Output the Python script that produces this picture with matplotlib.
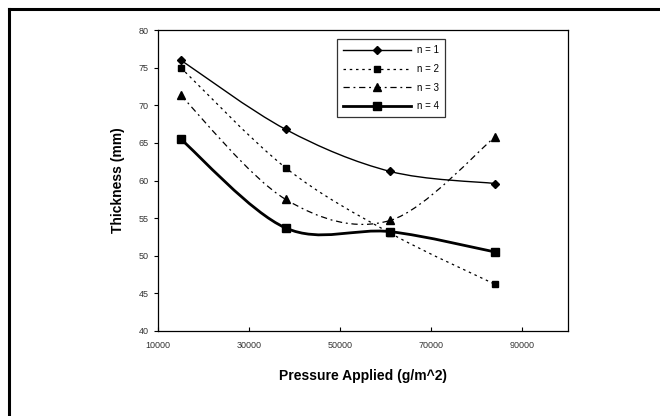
import matplotlib
matplotlib.use("Agg")
import matplotlib.pyplot as plt
from matplotlib.path import Path
from matplotlib.patches import PathPatch
from matplotlib.lines import Line2D
import numpy as np

pressure = [15000, 38000, 61000, 84000]
n1 = [76.0, 66.8, 61.2, 59.6]
n2 = [75.0, 61.7, 53.0, 46.2]
n3 = [71.3, 57.5, 54.7, 65.8]
n4 = [65.5, 53.7, 53.2, 50.5]
labels = ["n = 1", "n = 2", "n = 3", "n = 4"]
xticks = [10000, 30000, 50000, 70000, 90000]
yticks = [40, 45, 50, 55, 60, 65, 70, 75, 80]

plt.rcParams['font.family'] = ['Liberation Sans', 'DejaVu Sans']

fig = plt.figure(figsize=(6.6, 4.16), dpi=100)
ax = fig.add_axes([158/660, 1-331/416, 410/660, 301/416])

def smooth_path(x, y):
    pts = np.column_stack([x, y]).astype(float)
    n = len(pts)
    verts = [pts[0]]
    codes = [Path.MOVETO]
    for i in range(n-1):
        p0 = pts[i-1] if i > 0 else pts[i]
        p1 = pts[i]
        p2 = pts[i+1]
        p3 = pts[i+2] if i+2 < n else pts[i+1]
        c1 = p1 + (p2 - p0) / 6.0
        c2 = p2 - (p3 - p1) / 6.0
        verts += [c1, c2, p2]
        codes += [Path.CURVE4]*3
    return Path(verts, codes)

styles = [
    dict(ls='-', lw=1.0, marker='D', ms=4.5),
    dict(ls=(0, (2, 3)), lw=0.9, marker='s', ms=5),
    dict(ls=(0, (5, 3, 1.5, 3)), lw=0.9, marker='^', ms=5.5),
    dict(ls='-', lw=2.0, marker='s', ms=6),
]
series = [n1, n2, n3, n4]
handles = []
for ys, st, lab in zip(series, styles, labels):
    patch = PathPatch(smooth_path(pressure, ys), facecolor='none', edgecolor='black',
                      lw=st['lw'], linestyle=st['ls'], transform=ax.transData, zorder=2)
    ax.add_patch(patch)
    ax.plot(pressure, ys, ls='none', marker=st['marker'], ms=st['ms'], color='black', zorder=3)
    handles.append(Line2D([], [], color='black', ls=st['ls'], lw=st['lw'],
                          marker=st['marker'], ms=st['ms'], label=lab))

ax.set_xlim(10000, 100000)
ax.set_ylim(40, 80)
ax.set_xticks(xticks)
ax.set_yticks(yticks)
ax.set_xticklabels([str(v) for v in xticks], fontsize=6.5, color='#333333')
ax.set_yticklabels([str(v) for v in yticks], fontsize=6.5, color='#333333')
ax.tick_params(axis='y', direction='out', length=3, width=0.8)
ax.tick_params(axis='x', direction='in', length=3, width=0.8, pad=7)
for s in ax.spines.values():
    s.set_linewidth(0.9)
ax.set_xlabel("Pressure Applied (g/m^2)", fontsize=10, fontweight='bold', labelpad=14)
ax.set_ylabel("Thickness (mm)", fontsize=10, fontweight='bold', labelpad=10)

leg = ax.legend(handles=handles, loc='upper left', bbox_to_anchor=(0.425, 0.985),
                fontsize=7, frameon=True, fancybox=False, edgecolor='black',
                handlelength=7, labelspacing=0.9, borderpad=0.6, handletextpad=0.6)
leg.get_frame().set_linewidth(0.9)

# outer frame (top and left edges visible)
fig.add_artist(Line2D([9/660, 1.0], [1-9/416, 1-9/416], transform=fig.transFigure,
                      color='black', lw=2.2))
fig.add_artist(Line2D([9/660, 9/660], [0.0, 1-9/416], transform=fig.transFigure,
                      color='black', lw=2.2))

fig.savefig("out.png", dpi=100)
